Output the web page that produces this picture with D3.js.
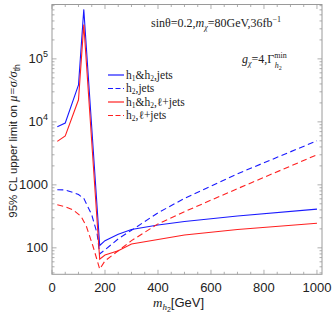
<!DOCTYPE html>
<html><head><meta charset="utf-8">
<script src="https://cdn.jsdelivr.net/npm/d3@7/dist/d3.min.js"></script>
<style>body{margin:0;background:#fff}svg{display:block}</style>
</head><body>
<script>
// ---- data ----
const mBlueSolid = [20, 50, 100, 120, 180, 200, 250, 300, 400, 500, 700, 1000];
const vBlueSolid = [8400, 9600, 38600, 610000, 109, 130, 165, 195, 230, 262, 320, 411];
const mRedSolid = [20, 50, 100, 120, 180, 200, 250, 300, 500, 700, 1000];
const vRedSolid = [4900, 6000, 22400, 350000, 66, 77, 90, 115, 160, 195, 246];
const mBlueDash = [20, 50, 80, 100, 120, 150, 170, 180, 200, 250, 300, 400, 500, 700, 1000];
const vBlueDash = [835, 830, 755, 700, 610, 334, 170, 80, 93, 139, 190, 360, 610, 1500, 5000];
const mRedDash = [20, 50, 80, 110, 130, 155, 180, 200, 250, 300, 400, 500, 700, 1000];
const vRedDash = [482, 450, 400, 314, 218, 105, 46, 62, 90, 130, 240, 375, 870, 3000];
const xTicks = [0, 200, 400, 600, 800, 1000];
const yTicks = [100, 1000, 10000, 100000];
const legendLabels = [["h", "1", "&h", "2", ",jets"], ["h", "2", ",jets"], ["h", "1", "&h", "2", ",\u2113+jets"], ["h", "2", ",\u2113+jets"]];

const W = 332, H = 318;
const L = 52, R = 322, T = 4.5, B = 274.3;
const svg = d3.select("body").append("svg").attr("width", W).attr("height", H);
const x = d3.scaleLinear().domain([0, 1019]).range([L, R]);
const y = d3.scaleLog().domain([38, 730000]).range([B, T]);

const sans = "Liberation Sans, Arial, sans-serif";
const serif = "Liberation Serif, Times New Roman, serif";
const frameCol = "#9a9a9a";

svg.append("defs").append("clipPath").attr("id", "clip")
  .append("rect").attr("x", L).attr("y", T).attr("width", R - L).attr("height", B - T);

// frame
svg.append("rect").attr("x", L).attr("y", T).attr("width", R - L).attr("height", B - T)
  .attr("fill", "none").attr("stroke", frameCol).attr("stroke-width", 1);

// x ticks (inward, mirrored)
const xMinor = d3.range(0, 1001, 50);
const gt = svg.append("g").attr("stroke", frameCol).attr("stroke-width", 0.8);
xMinor.forEach(v => {
  const major = v % 200 === 0;
  const len = major ? 4.5 : 2.5;
  gt.append("line").attr("x1", x(v)).attr("x2", x(v)).attr("y1", B).attr("y2", B - len);
  gt.append("line").attr("x1", x(v)).attr("x2", x(v)).attr("y1", T).attr("y2", T + len);
});
// y ticks (log)
const yAll = [];
for (let e = 1; e <= 5; e++) for (let k = 1; k <= 9; k++) {
  const v = k * Math.pow(10, e);
  if (v >= 38 && v <= 730000) yAll.push([v, k === 1]);
}
yAll.forEach(([v, major]) => {
  const len = major ? 4.5 : 2.5;
  gt.append("line").attr("y1", y(v)).attr("y2", y(v)).attr("x1", L).attr("x2", L + len);
  gt.append("line").attr("y1", y(v)).attr("y2", y(v)).attr("x1", R).attr("x2", R - len);
});

// x tick labels
svg.append("g").selectAll("text").data(xTicks).join("text")
  .attr("x", d => x(d)).attr("y", 292).attr("text-anchor", "middle")
  .attr("font-family", sans).attr("font-size", 13).attr("fill", "#222")
  .text(d => d);
// y tick labels
yTicks.forEach(v => {
  const t = svg.append("text").attr("x", 48).attr("y", y(v) + 4.5).attr("text-anchor", "end")
    .attr("font-family", sans).attr("font-size", 13).attr("fill", "#222");
  const e = Math.round(Math.log10(v));
  if (e <= 3) t.text(v);
  else {
    t.append("tspan").text("10");
    t.append("tspan").attr("font-size", 9).attr("dy", -6).text(e);
  }
});

// lines
const line = d3.line().x(d => x(d[0])).y(d => y(d[1]));
const series = [
  {m: mBlueSolid, v: vBlueSolid, c: "#1a1aff", dash: null},
  {m: mBlueDash, v: vBlueDash, c: "#1a1aff", dash: "6,3.5"},
  {m: mRedSolid, v: vRedSolid, c: "#ff2020", dash: null},
  {m: mRedDash, v: vRedDash, c: "#ff2020", dash: "6,3.5"}
];
const gl = svg.append("g").attr("clip-path", "url(#clip)");
series.forEach(s => {
  gl.append("path").datum(s.m.map((m, i) => [m, s.v[i]]))
    .attr("d", line).attr("fill", "none").attr("stroke", s.c).attr("stroke-width", 1.1)
    .attr("stroke-dasharray", s.dash);
});

// legend
const lgY = [75, 88.5, 102, 115.5];
series.forEach((s, i) => {
  svg.append("line").attr("x1", 108).attr("x2", 124).attr("y1", lgY[i]).attr("y2", lgY[i])
    .attr("stroke", s.c).attr("stroke-width", s.dash ? 1.1 : 1.6).attr("stroke-opacity", s.dash ? 1 : 0.75)
    .attr("stroke-dasharray", s.dash ? "5,2.5" : null);
  const t = svg.append("text").attr("x", 126).attr("y", lgY[i] + 3.5)
    .attr("font-family", serif).attr("font-size", 11.5).attr("fill", "#222");
  const parts = legendLabels[i];
  parts.forEach((p, j) => {
    const isSub = (p === "1" || p === "2");
    const ts = t.append("tspan").text(p);
    if (isSub) ts.attr("font-size", 7.5).attr("dy", 2);
    else if (j > 0 && (parts[j - 1] === "1" || parts[j - 1] === "2")) ts.attr("dy", -2);
  });
});

// annotations
const a1 = svg.append("text").attr("x", 151).attr("y", 27)
  .attr("font-family", serif).attr("font-size", 12).attr("fill", "#222");
a1.append("tspan").text("sin\u03b8=0.2,");
a1.append("tspan").attr("font-style", "italic").text("m");
a1.append("tspan").attr("font-style", "italic").attr("font-size", 8).attr("dy", 3).text("\u03c7");
a1.append("tspan").attr("dy", -3).text("=80GeV,36fb");
a1.append("tspan").attr("font-size", 8).attr("dy", -5).text("\u22121");

const a2 = svg.append("text").attr("x", 242).attr("y", 63)
  .attr("font-family", serif).attr("font-size", 12).attr("fill", "#222");
a2.append("tspan").attr("font-style", "italic").text("g");
a2.append("tspan").attr("font-style", "italic").attr("font-size", 8).attr("dy", 3).text("\u03c7");
a2.append("tspan").attr("dy", -3).text("=4,\u0393");
a2.append("tspan").attr("font-size", 8).attr("dy", -5).text("min");
a2.append("tspan").attr("font-style", "italic").attr("font-size", 8).attr("dx", -12).attr("dy", 10).text("h");
a2.append("tspan").attr("font-size", 6).attr("dy", 2).text("2");

// x axis title
const xt = svg.append("text").attr("x", 153).attr("y", 307)
  .attr("font-family", sans).attr("font-size", 13).attr("fill", "#222");
xt.append("tspan").attr("font-family", serif).attr("font-style", "italic").text("m");
xt.append("tspan").attr("font-family", serif).attr("font-style", "italic").attr("font-size", 9).attr("dy", 3).text("h");
xt.append("tspan").attr("font-size", 7).attr("dy", 2).text("2");
xt.append("tspan").attr("dy", -5).text("[GeV]");

// y axis title
const yt = svg.append("text").attr("transform", "translate(17,141) rotate(-90)")
  .attr("text-anchor", "middle").attr("font-family", sans).attr("font-size", 11.5).attr("fill", "#222");
yt.append("tspan").text("95% CL upper limit on ");
yt.append("tspan").attr("font-family", serif).attr("font-style", "italic").attr("font-size", 12.5).text("\u03bc=\u03c3/\u03c3");
yt.append("tspan").attr("font-size", 8.5).attr("dy", 3).text("th");
</script>
</body></html>
